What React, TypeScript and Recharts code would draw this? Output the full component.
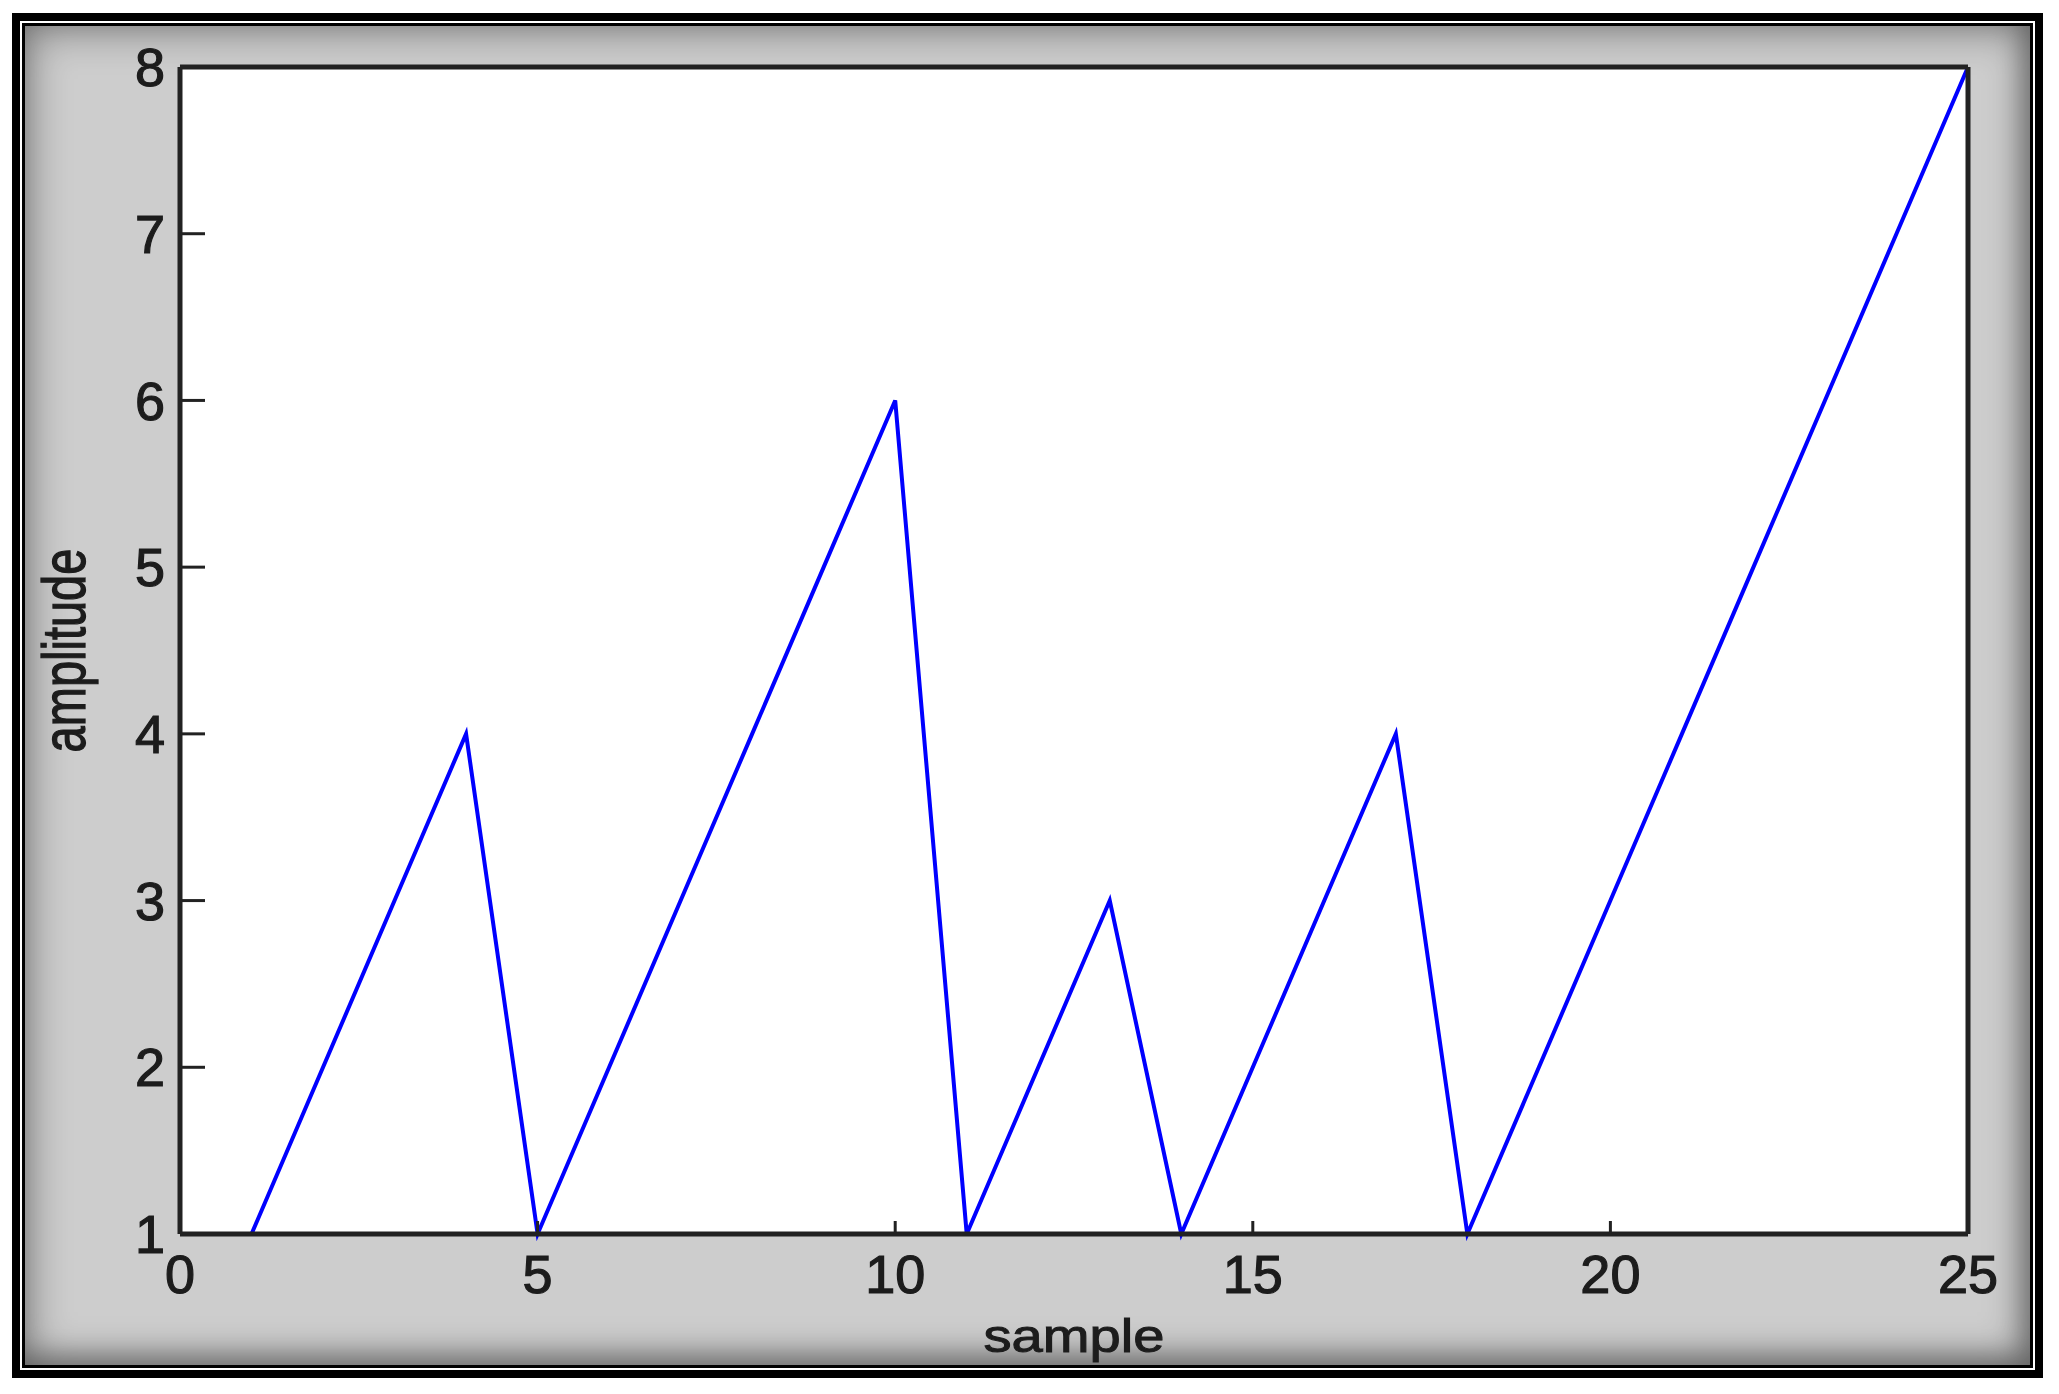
import React from "react";
import { LineChart, Line, XAxis, YAxis, CartesianGrid, Label } from "recharts";

const samples = [1, 2, 3, 4, 5, 6, 7, 8, 9, 10, 11, 12, 13, 14, 15, 16, 17, 18, 19, 20, 21, 22, 23, 24, 25];
const amplitudes = [1, 2, 3, 4, 1, 2, 3, 4, 5, 6, 1, 2, 3, 1, 2, 3, 4, 1, 2, 3, 4, 5, 6, 7, 8];
const xTicks = [0, 5, 10, 15, 20, 25];
const yTicks = [1, 2, 3, 4, 5, 6, 7, 8];

const data = samples.map((s, i) => ({ sample: s, amplitude: amplitudes[i] }));

const FONT = "'Liberation Sans', Arial, Helvetica, sans-serif";
const INK = "#1c1c1c";
const AXIS = "#222";

// slight outline makes the glyphs as heavy as the blurred screenshot text
const tickStyle = { fontSize: 54, fill: INK, fontFamily: FONT, stroke: INK, strokeWidth: 1.2 };

const App = () => {
  return (
    <div style={{ position: "absolute", left: 0, top: 0, width: 2059, height: 1394, background: "#fff" }}>
      {/* framed gray panel, the way the screenshot was boxed */}
      <div
        style={{
          position: "absolute",
          left: 12,
          top: 13,
          width: 2031,
          height: 1365,
          background: "#000",
          padding: 8,
          boxSizing: "border-box",
        }}
      >
        <div style={{ width: "100%", height: "100%", border: "2px solid #fff", boxSizing: "border-box" }}>
          <div style={{ width: "100%", height: "100%", border: "3px solid #000", boxSizing: "border-box" }}>
            <div
              style={{
                width: "100%",
                height: "100%",
                background: "#cdcdcd",
                boxShadow: "inset 0 0 40px 4px rgba(0,0,0,0.4), inset -8px -10px 25px rgba(0,0,0,0.25)",
              }}
            />
          </div>
        </div>
      </div>

      <div style={{ position: "absolute", left: 0, top: 0 }}>
        <LineChart
          width={2059}
          height={1394}
          data={data}
          margin={{ top: 66, right: 90, left: 179, bottom: 159 }}
        >
          <CartesianGrid horizontal={false} vertical={false} fill="#fff" />
          <XAxis
            xAxisId="bottom"
            dataKey="sample"
            type="number"
            domain={[0, 25]}
            ticks={xTicks}
            height={1}
            tickSize={-13}
            tickMargin={34}
            axisLine={{ stroke: AXIS, strokeWidth: 5 }}
            tickLine={{ stroke: AXIS, strokeWidth: 3 }}
            tick={tickStyle}
          >
            <Label
              content={({ viewBox }: any) => (
                <text
                  transform={`translate(${viewBox.x + viewBox.width / 2},1352) scale(1.22,1)`}
                  textAnchor="middle"
                  fontSize={46}
                  fontFamily={FONT}
                  fill={INK}
                  stroke={INK}
                  strokeWidth={1}
                >
                  sample
                </text>
              )}
            />
          </XAxis>
          <XAxis
            xAxisId="top"
            dataKey="sample"
            type="number"
            orientation="top"
            domain={[0, 25]}
            ticks={xTicks}
            height={1}
            tickSize={-13}
            axisLine={{ stroke: AXIS, strokeWidth: 5 }}
            tickLine={{ stroke: AXIS, strokeWidth: 3 }}
            tick={false}
          />
          <YAxis
            yAxisId="left"
            type="number"
            domain={[1, 8]}
            ticks={yTicks}
            width={1}
            tickSize={-25}
            tickMargin={40}
            axisLine={{ stroke: AXIS, strokeWidth: 5 }}
            tickLine={{ stroke: AXIS, strokeWidth: 3 }}
            tick={tickStyle}
          >
            <Label
              content={({ viewBox }: any) => (
                <text
                  transform={`translate(85,${viewBox.y + viewBox.height / 2}) rotate(-90) scale(1,1.3)`}
                  textAnchor="middle"
                  fontSize={47}
                  fontFamily={FONT}
                  fill={INK}
                  stroke={INK}
                  strokeWidth={1}
                >
                  amplitude
                </text>
              )}
            />
          </YAxis>
          <YAxis
            yAxisId="right"
            type="number"
            orientation="right"
            domain={[1, 8]}
            ticks={yTicks}
            width={1}
            tickSize={-25}
            axisLine={{ stroke: AXIS, strokeWidth: 5 }}
            tickLine={{ stroke: AXIS, strokeWidth: 3 }}
            tick={false}
          />
          <Line
            xAxisId="bottom"
            yAxisId="left"
            type="linear"
            dataKey="amplitude"
            stroke="#0000ff"
            strokeWidth={4}
            dot={false}
            isAnimationActive={false}
          />
        </LineChart>
      </div>
    </div>
  );
};

export default App;
